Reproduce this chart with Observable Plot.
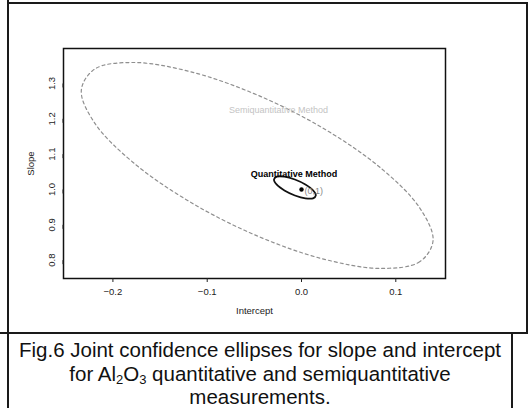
<!DOCTYPE html>
<html><head><meta charset="utf-8">
<script src="https://cdn.jsdelivr.net/npm/d3@7"></script>
<script src="https://cdn.jsdelivr.net/npm/@observablehq/plot@0.6"></script>
<style>
html,body{margin:0;padding:0;background:#fff;}
#page{position:relative;width:531px;height:408px;overflow:hidden;font-family:"Liberation Sans",Arial,sans-serif;background:#fff;}
#chart{position:absolute;left:0;top:0;}
.ln{position:absolute;background:#1a1a1a;}
#caption{position:absolute;left:8px;width:504px;top:338px;text-align:center;font-size:20.5px;line-height:23.5px;color:#111;white-space:nowrap;}
#caption sub{font-size:13px;line-height:0;vertical-align:-3px;}
</style></head><body>
<div id="page">
<div id="chart"></div>
<div class="ln" style="left:7px;top:0;width:2px;height:408px"></div>
<div class="ln" style="left:8px;top:2px;width:520px;height:2px"></div>
<div class="ln" style="left:526px;top:2px;width:2px;height:332px"></div>
<div class="ln" style="left:0;top:332px;width:528px;height:2px"></div>
<div class="ln" style="left:511px;top:333px;width:2px;height:75px"></div>
<div id="caption">Fig.6 Joint confidence ellipses for slope and intercept<br>for Al<sub>2</sub>O<sub>3</sub> quantitative and semiquantitative<br>measurements.</div>
</div>
<script>
// Semiquantitative method: joint confidence ellipse
const semiIntercept = [0.1395, 0.1253, 0.0849, 0.0244, -0.0470, -0.1184, -0.1789, -0.2193, -0.2335, -0.2193, -0.1789, -0.1184, -0.0470, 0.0244, 0.0849, 0.1253];
const semiSlope     = [0.8555, 0.7953, 0.7766, 0.8023, 0.8685, 0.9650, 1.0772, 1.1880, 1.2805, 1.3407, 1.3594, 1.3337, 1.2675, 1.1710, 1.0588, 0.9480];
// Quantitative method: joint confidence ellipse
const quantIntercept = [0.0152, 0.0122, 0.0041, -0.0070, -0.0181, -0.0262, -0.0292, -0.0262, -0.0181, -0.0070, 0.0041, 0.0122];
const quantSlope     = [0.9834, 0.9750, 0.9748, 0.9829, 0.9970, 1.0135, 1.0278, 1.0362, 1.0364, 1.0283, 1.0141, 0.9977];
// Ideal point (intercept 0, slope 1)
const idealPoint = [{intercept: 0, slope: 1, label: "(0,1)"}];
// Labels
const methodLabels = ["Semiquantitative Method", "Quantitative Method"];
const labelIntercept = [-0.0244, -0.0080];
const labelSlope = [1.226, 1.043];
// Axes
const xTicks = [-0.2, -0.1, 0.0, 0.1];
const yTicks = [0.8, 0.9, 1.0, 1.1, 1.2, 1.3];
const xDomain = [-0.2524, 0.1527];
const yDomain = [0.748, 1.399];

const semi = semiIntercept.map((x, i) => ({intercept: x, slope: semiSlope[i]}));
const quant = quantIntercept.map((x, i) => ({intercept: x, slope: quantSlope[i]}));
const labels = methodLabels.map((t, i) => ({text: t, intercept: labelIntercept[i], slope: labelSlope[i]}));

const fmt = d3.format(".1f");
const chart = Plot.plot({
  width: 531, height: 333,
  marginLeft: 63, marginRight: 86, marginTop: 48, marginBottom: 55,
  style: {fontFamily: "'Liberation Sans', Arial, sans-serif", fontSize: "9px", background: "transparent", color: "#222"},
  x: {domain: xDomain},
  y: {domain: yDomain},
  marks: [
    Plot.line(semi, {x: "intercept", y: "slope", curve: "catmull-rom-closed", stroke: "#8f8f8f", strokeWidth: 1.2, strokeDasharray: "3 3"}),
    Plot.line(quant, {x: "intercept", y: "slope", curve: "catmull-rom-closed", stroke: "#111", strokeWidth: 1.8}),
    Plot.dot(idealPoint, {x: "intercept", y: "slope", r: 2.2, fill: "#000", stroke: null}),
    Plot.text(idealPoint, {x: "intercept", y: "slope", text: "label", textAnchor: "start", dx: 3, dy: 2, fontSize: 9, fill: "#888"}),
    Plot.text(labels.slice(0, 1), {x: "intercept", y: "slope", text: "text", fontSize: 9, fill: "#c4c4c4"}),
    Plot.text(labels.slice(1), {x: "intercept", y: "slope", text: "text", fontSize: 9, fill: "#000", fontWeight: 600}),
    Plot.frame({stroke: "#111", strokeWidth: 1.5}),
    Plot.axisX({ticks: xTicks, tickFormat: fmt, tickSize: 4, tickPadding: 6, fontSize: 9.5,
      label: "Intercept", labelAnchor: "center", labelOffset: 35, labelArrow: "none"}),
    Plot.axisY({ticks: yTicks, tickFormat: fmt, tickSize: 4, tickPadding: 8, fontSize: 9.5,
      rotate: -90, textAnchor: "middle", lineAnchor: "middle",
      label: "Slope", labelAnchor: "center", labelOffset: 36, labelArrow: "none"})
  ]
});
document.getElementById("chart").appendChild(chart);
</script>
</body></html>
